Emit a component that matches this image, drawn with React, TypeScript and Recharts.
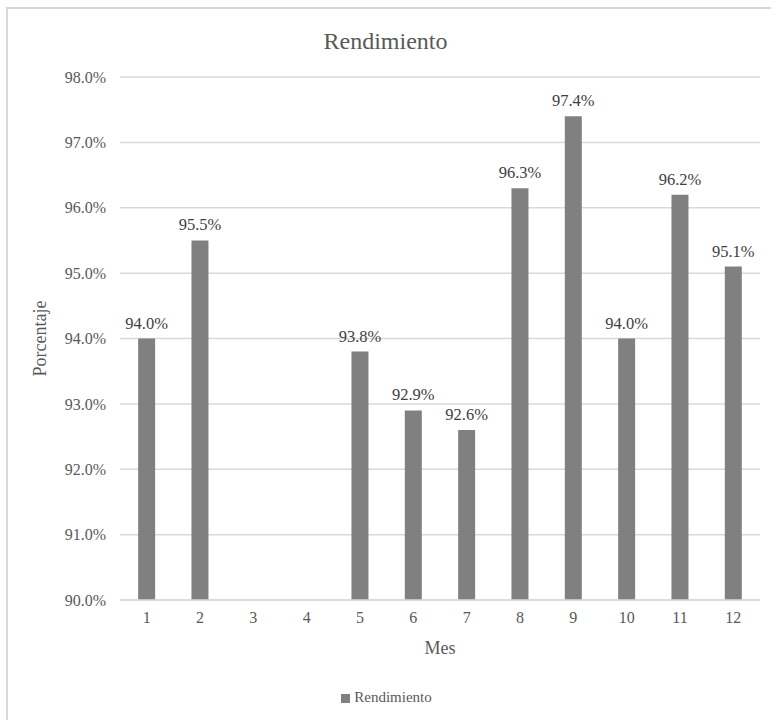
import { BarChart, Bar, XAxis, YAxis, CartesianGrid, Legend, LabelList, Label } from "recharts";

const months = ["1", "2", "3", "4", "5", "6", "7", "8", "9", "10", "11", "12"];
// Rendimiento mensual (%); months 3 and 4 have no data
const rendimiento = [94.0, 95.5, null, null, 93.8, 92.9, 92.6, 96.3, 97.4, 94.0, 96.2, 95.1];
const yTicks = [90, 91, 92, 93, 94, 95, 96, 97, 98];

const FONT = "Liberation Serif, Times New Roman, serif";

export default function App() {
  const data = months.map((mes, i) => ({ mes, rendimiento: rendimiento[i] }));

  return (
    <div style={{ position: "absolute", left: 0, top: 0, width: 771, height: 720, overflow: "hidden", background: "#fff", fontFamily: FONT }}>
      {/* chart frame */}
      <div
        style={{
          position: "absolute",
          left: 6,
          top: 7,
          width: 800,
          height: 760,
          border: "2px solid #d9d9d9",
          boxSizing: "border-box",
        }}
      />
      <div
        style={{
          position: "absolute",
          left: 0,
          width: 771,
          top: 26,
          textAlign: "center",
          fontSize: 24,
          color: "#595959",
          lineHeight: "30px",
        }}
      >
        Rendimiento
      </div>
      <div style={{ position: "absolute", left: 0, top: 0 }}>
        <BarChart width={771} height={720} data={data} margin={{ top: 77, right: 11, bottom: 43, left: 60 }} barCategoryGap="34%">
          <CartesianGrid horizontal vertical={false} stroke="#d9d9d9" strokeWidth={1.5} />
          <XAxis
            dataKey="mes"
            height={60}
            tickSize={0}
            tickMargin={12}
            axisLine={{ stroke: "#d9d9d9", strokeWidth: 1.5 }}
            tick={{ fill: "#595959", fontSize: 16, fontFamily: FONT }}
          >
            <Label value="Mes" position="insideBottom" offset={6} fill="#595959" fontSize={18} fontFamily={FONT} />
          </XAxis>
          <YAxis
            width={60}
            domain={[90, 98]}
            ticks={yTicks}
            allowDataOverflow
            tickSize={0}
            tickMargin={14}
            axisLine={false}
            tickLine={false}
            tickFormatter={(v: number) => v.toFixed(1) + "%"}
            tick={{ fill: "#595959", fontSize: 16, fontFamily: FONT }}
          >
            <Label
              value="Porcentaje"
              angle={-90}
              position="insideLeft"
              offset={-20}
              fill="#595959"
              fontSize={18}
              fontFamily={FONT}
              style={{ textAnchor: "middle" }}
            />
          </YAxis>
          <Legend
            verticalAlign="bottom"
            align="center"
            iconType="square"
            iconSize={9}
            wrapperStyle={{ left: 6, width: 771, bottom: 14, fontFamily: FONT, fontSize: 15 }}
            formatter={(value: string) => <span style={{ color: "#595959" }}>{value}</span>}
          />
          <Bar dataKey="rendimiento" name="Rendimiento" fill="#808080" isAnimationActive={false}>
            <LabelList
              dataKey="rendimiento"
              position="top"
              offset={10}
              fill="#404040"
              fontSize={16.5}
              fontFamily={FONT}
              formatter={(v: any) => (v == null ? "" : Number(v).toFixed(1) + "%")}
            />
          </Bar>
        </BarChart>
      </div>
    </div>
  );
}
